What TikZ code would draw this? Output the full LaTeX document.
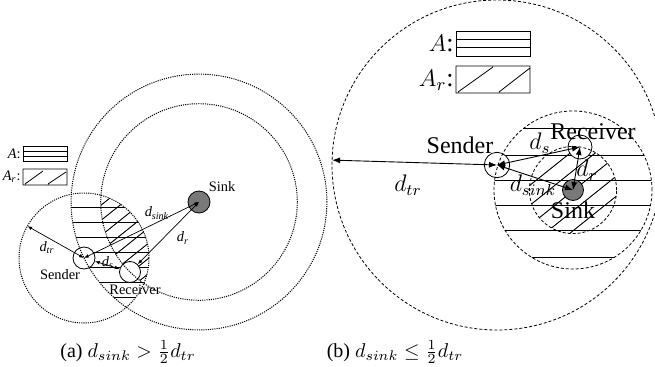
\documentclass[tikz,border=0pt]{standalone}
\usepackage[no-math]{fontspec}
\setmainfont{Liberation Serif}
\usetikzlibrary{arrows.meta}

\begin{document}
\begin{tikzpicture}[x=.5pt,y=.5pt,
  dev/.style={circle,draw,fill=white,inner sep=0pt,line width=.4pt},
  sinkdev/.style={dev,fill=gray!95!black},
  rangea/.style={dash pattern=on .55pt off .55pt,line width=.5pt},
  rangeb/.style={dash pattern=on 1.5pt off 1pt,line width=.4pt},
  hatch/.style={line width=.45pt},
  tipa/.style={{Latex[length=2.4pt,width=1.8pt]}-{Latex[length=2.4pt,width=1.8pt]},line width=.35pt},
  tipb/.style={{Latex[length=4pt,width=3pt]}-{Latex[length=4pt,width=3pt]},line width=.45pt},
  labela/.style={font=\fontsize{7.2}{8}\selectfont,inner sep=1pt},
  labelb/.style={font=\fontsize{12}{14}\selectfont,inner sep=1pt}]
\useasboundingbox (0,0) rectangle (655,366);

% (a) d_sink > d_tr/2
\coordinate (Ta) at (84,108);
\coordinate (Sa) at (199,164);
\coordinate (Ra) at (130,94);
\begin{scope}
\clip (Ta) circle (65);
\clip (Sa) circle (127.9);
\foreach \y in {159,144,...,39} \draw[hatch] (0,\y) -- (340,\y);
\end{scope}
\begin{scope}
\clip (Ta) circle (65);
\clip (Sa) circle (98.3);
\foreach \c in {-100,-81,...,100} \draw[hatch] (\c,0) -- ++(250,200);
\end{scope}
\node[dev,minimum size=11pt] (snd) at (Ta){};
\node[dev,minimum size=10.5pt] (rcv) at (Ra){};
\node[sinkdev,minimum size=11pt] (snk) at (Sa){};
\draw[rangea] (Sa) circle (127.9) (Sa) circle (98.3) (Ta) circle (65);
\path (Ta) ++(150.6:65) coordinate (tra);
\draw[tipa] (snd.center) -- (tra);
\draw[tipa] (snd.center) -- (snk.center);
\draw[tipa] (rcv) -- (snk.center);
\draw[tipa] (snd) -- (rcv);

\node[labela] (sinka) at (222,179){Sink};
\node[labela] (sendera) at (60,91){Sender};
\node[labela] (receivera) at (135,76){Receiver};
\node[labela] (dsinka) at (157,153){\textit{d\textsubscript{sink}}};
\node[labela] (dra) at (183,128){\textit{d\textsubscript{r}}};
\node[labela] (dtra) at (47,118){\textit{d\textsubscript{tr}}};
\node[labela] (dsa) at (108,103){\textit{d\textsubscript{s}}};

\draw (23,205) rectangle (67,220) (23,210) -- (67,210) (23,215) -- (67,215);
\draw (23,181) rectangle (67,197) (25,182) -- (43,195) (48,182) -- (66,194);
\node[labela,anchor=east] (lega) at (23,212.5){\textit{A}:};
\node[labela,anchor=east] (legra) at (23,189){\textit{A\textsubscript{r}}:};

\node[font=\fontsize{10}{12}\selectfont,inner sep=0pt] (capa) at (128,14){(a) $d_{sink} > \frac{1}{2}d_{tr}$};

% (b) d_sink <= d_tr/2
\coordinate (Tb) at (497,201);
\coordinate (Sb) at (573,176);
\coordinate (Rb) at (580,219);
\begin{scope}
\clip (Sb) circle (79);
\foreach \y in {238,211,186,161,136,109} \draw[hatch] (480,\y) -- (660,\y);
\end{scope}
\begin{scope}
\clip (Sb) circle (43.6);
\foreach \c in {379,404,...,580} \draw[hatch] (\c,100) -- ++(150,120);
\end{scope}
\node[dev,minimum size=12.7pt] (snd2) at (Tb){};
\node[dev,minimum size=12pt] (rcv2) at (Rb){};
\node[sinkdev,minimum size=10.5pt] (snk2) at (Sb){};
\draw[rangeb] (Tb) circle (165) (Sb) circle (79) (Sb) circle (43.6);
\path (Tb) ++(178.3:165) coordinate (trb);
\draw[tipb] (snd2.center) -- (trb);
\draw[tipb] (snd2.center) -- (rcv2.center);
\draw[tipb] (snd2.center) -- (snk2.center);
\draw[tipb] (rcv2.center) -- (snk2.center);

\node[labelb] (senderb) at (460,221){Sender};
\node[labelb] (receiverb) at (593,234){Receiver};
\node[labelb] (sinkb) at (573,156){Sink};
\node[labelb] (dsb) at (540,223){$d_s$};
\node[labelb] (drb) at (587,196){$d_r$};
\node[labelb] (dsinkb) at (533,181){$d_{sink}$};
\node[labelb] (dtrb) at (408,181){$d_{tr}$};

\draw (456,310) rectangle (530,335) (456,318.5) -- (530,318.5) (456,327) -- (530,327);
\draw (456,273) rectangle (530,300) (458,274) -- (493,299) (499,274) -- (530,298);
\node[labelb,anchor=east,font=\fontsize{13}{15}\selectfont] (legb) at (456,322.5){$A$:};
\node[labelb,anchor=east,font=\fontsize{13}{15}\selectfont] (legrb) at (456,286){$A_r$:};

\node[font=\fontsize{10}{12}\selectfont,inner sep=0pt] (capb) at (395,14){(b) $d_{sink} \le \frac{1}{2}d_{tr}$};
\end{tikzpicture}
\end{document}
